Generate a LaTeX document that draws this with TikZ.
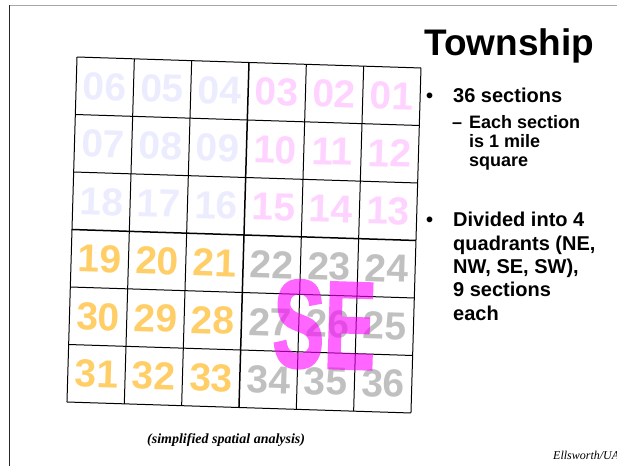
\documentclass[tikz,border=0pt]{standalone}
\usepackage{fontspec}
\usepackage{graphicx}
\setmainfont{Liberation Sans}
\newfontfamily\timesfont{Liberation Serif}
\newfontfamily\sefont[FakeBold=2.5]{Liberation Sans Bold}
\definecolor{nwc}{RGB}{236,236,255}
\definecolor{nec}{RGB}{255,211,255}
\definecolor{swc}{RGB}{255,206,102}
\definecolor{sec}{RGB}{192,192,192}
\definecolor{semag}{RGB}{255,0,255}
\begin{document}
\begin{tikzpicture}[x=1pt,y=-1pt,
  gridline/.style={line width=1pt, black},
  midline/.style={line width=1.5pt, black},
  num/.style={font=\fontsize{39}{39}\selectfont\bfseries, inner sep=0pt, rotate=-1.8},
  nw/.style={num, text=nwc},
  ne/.style={num, text=nec},
  sw/.style={num, text=swc},
  se/.style={num, text=sec},
  big/.style={anchor=base west, inner sep=0pt, font=\fontsize{20}{20}\selectfont\bfseries},
  small/.style={anchor=base west, inner sep=0pt, font=\fontsize{18}{18}\selectfont\bfseries}]
\useasboundingbox (0,0) rectangle (617,466);
\clip (0,0) rectangle (617,466);
\fill[white] (0,0) rectangle (617,466);
\draw[black!35, line width=1pt] (9.3,5.3) -- (617,5.3);
\draw[black!85, line width=1pt] (9.3,5.3) -- (9.3,466);

\begin{scope}[shift={(77,57)}, x={(57.33pt,-1.83pt)}, y={(-1.67pt,-57.5pt)}]
  \node[nw] (s06) at (0.5,0.5) {06};
  \node[nw] (s05) at (1.5,0.5) {05};
  \node[nw] (s04) at (2.5,0.5) {04};
  \node[ne] (s03) at (3.5,0.5) {03};
  \node[ne] (s02) at (4.5,0.5) {02};
  \node[ne] (s01) at (5.5,0.5) {01};
  \node[nw] (s07) at (0.5,1.5) {07};
  \node[nw] (s08) at (1.5,1.5) {08};
  \node[nw] (s09) at (2.5,1.5) {09};
  \node[ne] (s10) at (3.5,1.5) {10};
  \node[ne] (s11) at (4.5,1.5) {11};
  \node[ne] (s12) at (5.5,1.5) {12};
  \node[nw] (s18) at (0.5,2.5) {18};
  \node[nw] (s17) at (1.5,2.5) {17};
  \node[nw] (s16) at (2.5,2.5) {16};
  \node[ne] (s15) at (3.5,2.5) {15};
  \node[ne] (s14) at (4.5,2.5) {14};
  \node[ne] (s13) at (5.5,2.5) {13};
  \node[sw] (s19) at (0.5,3.5) {19};
  \node[sw] (s20) at (1.5,3.5) {20};
  \node[sw] (s21) at (2.5,3.5) {21};
  \node[se] (s22) at (3.5,3.5) {22};
  \node[se] (s23) at (4.5,3.5) {23};
  \node[se] (s24) at (5.5,3.5) {24};
  \node[sw] (s30) at (0.5,4.5) {30};
  \node[sw] (s29) at (1.5,4.5) {29};
  \node[sw] (s28) at (2.5,4.5) {28};
  \node[se] (s27) at (3.5,4.5) {27};
  \node[se] (s26) at (4.5,4.5) {26};
  \node[se] (s25) at (5.5,4.5) {25};
  \node[sw] (s31) at (0.5,5.5) {31};
  \node[sw] (s32) at (1.5,5.5) {32};
  \node[sw] (s33) at (2.5,5.5) {33};
  \node[se] (s34) at (3.5,5.5) {34};
  \node[se] (s35) at (4.5,5.5) {35};
  \node[se] (s36) at (5.5,5.5) {36};
  \foreach \k in {0,1,2,4,5,6} {
    \draw[gridline] (\k,0) -- (\k,6);
    \draw[gridline] (0,\k) -- (6,\k);
  }
  \draw[midline] (3,0) -- (3,6);
  \draw[midline] (0,3) -- (6,3);
\end{scope}

\begin{scope}[transparency group, opacity=0.6]
\node[inner sep=0pt, rotate=-1.8, text=semag,
  font=\sefont\fontsize{124}{124}\selectfont] (sebig) at (324.5,325) {\scalebox{0.62}[1]{SE}};
\end{scope}

\node[anchor=base west, inner sep=0pt, font=\fontsize{37}{37}\selectfont\bfseries] (title) at (424,55) {Township};
\node[big] (b1) at (426,102) {•};
\node[big] (t1) at (453,102) {36 sections};
\node[small] (d1) at (452,128) {–};
\node[small] (t2a) at (469,128) {Each section};
\node[small] (t2b) at (469,147.5) {is 1 mile};
\node[small] (t2c) at (469,166) {square};
\node[big] (b2) at (426,226.7) {•};
\node[big] (t3a) at (453,226.7) {Divided into 4};
\node[big] (t3b) at (453,250) {quadrants (NE,};
\node[big] (t3c) at (453,273.3) {NW, SE, SW),};
\node[big] (t3d) at (453,296.7) {9 sections};
\node[big] (t3e) at (453,320) {each};

\node[anchor=base west, inner sep=0pt, font=\timesfont\bfseries\itshape\fontsize{14}{14}\selectfont] (cap) at (147,443) {(simplified spatial analysis)};
\node[anchor=base west, inner sep=0pt, font=\timesfont\itshape\fontsize{12}{12}\selectfont] (auth) at (553,459) {Ellsworth/UA};
\end{tikzpicture}
\end{document}
